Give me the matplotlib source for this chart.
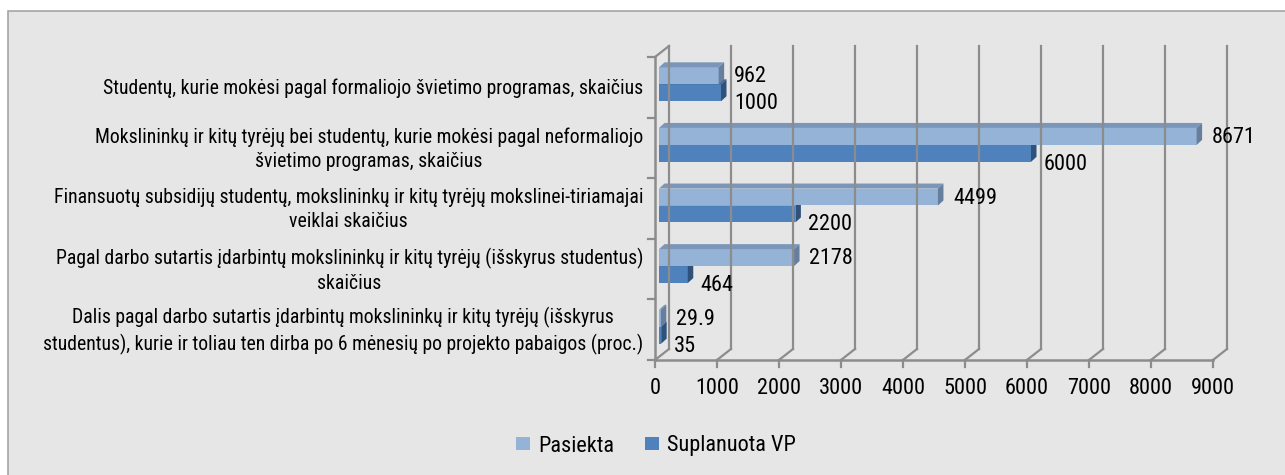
import matplotlib
matplotlib.use('Agg')
import matplotlib.pyplot as plt
from matplotlib import font_manager
from matplotlib.font_manager import FontProperties
from matplotlib.patches import Rectangle, Polygon, Patch
from matplotlib.transforms import offset_copy, IdentityTransform

# --- duomenys ---
kategorijos = [
    'Studentų, kurie mokėsi pagal formaliojo švietimo programas, skaičius',
    'Mokslininkų ir kitų tyrėjų bei studentų, kurie mokėsi pagal neformaliojo\nšvietimo programas, skaičius',
    'Finansuotų subsidijų studentų, mokslininkų ir kitų tyrėjų mokslinei-tiriamajai\nveiklai skaičius',
    'Pagal darbo sutartis įdarbintų mokslininkų ir kitų tyrėjų (išskyrus studentus)\nskaičius',
    'Dalis pagal darbo sutartis įdarbintų mokslininkų ir kitų tyrėjų (išskyrus\nstudentus), kurie ir toliau ten dirba po 6 mėnesių po projekto pabaigos (proc.)',
]
pasiekta = [962, 8671, 4499, 2178, 29.9]
suplanuota = [1000, 6000, 2200, 464, 35]
x_ticks = [0, 1000, 2000, 3000, 4000, 5000, 6000, 7000, 8000, 9000]
serijos = ['Pasiekta', 'Suplanuota VP']

W, H = 1285, 475

# siauras sriftas, jei toks yra
fname, k = None, 0.82
prefer = ['Liberation Sans Narrow', 'Arial Narrow', 'Roboto Condensed', 'DejaVu Sans',
          'Open Sans Condensed', 'Noto Sans']
narrow = [f for f in font_manager.fontManager.ttflist
          if ('Narrow' in f.name or 'Condensed' in f.name or f.stretch in ('condensed', 'semi-condensed'))
          and f.style == 'normal' and f.weight in (400, 'normal', 'regular')]
narrow.sort(key=lambda f: prefer.index(f.name) if f.name in prefer else 99)
if narrow:
    fname, k = narrow[0].fname, 1.0


def font(size):
    if fname:
        return FontProperties(fname=fname, size=size)
    return FontProperties(family='Liberation Sans', size=size)


fs_val = 16 * k
fs_cat = 14.2 * k

sviesi = ('#95b3d7', '#7b96b9', '#667f9f')
tamsi = ('#4f81bd', '#41699a', '#2f527b')
grid_color = '#8c8c8c'

DX, DY = 14, 11      # sienos gylis
BX, BY = 4, 3        # stulpeliu poslinkis
BDX, BDY = 5.5, 5    # stulpelio gylis
h = 0.28


def fx(px):
    return px / W


def fy(py):
    return 1 - py / H


fig = plt.figure(figsize=(W / 100, H / 100), dpi=100)
fig.patches.append(Rectangle((fx(8), fy(H + 10)), fx(W + 10) - fx(8), fy(11) - fy(H + 10),
                             transform=fig.transFigure, facecolor='#e6e6e6',
                             edgecolor='#a5a5a5', lw=1.2, zorder=-5))

ax = fig.add_axes([fx(655), fy(360), fx(1213) - fx(655), fy(57) - fy(360)])
ax.set_xlim(0, 9000)
ax.set_ylim(5, 0)
ax.axis('off')

ident = IdentityTransform()
back = offset_copy(ax.transData, fig=fig, x=DX, y=DY, units='dots')
shift = offset_copy(ax.transData, fig=fig, x=BX, y=BY, units='dots')

# galine siena su tinkleliu ir grindys
for v in x_ticks:
    ax.plot([v, v], [0, 5], transform=back, color=grid_color, lw=1.6, clip_on=False)
    x0, y0 = ax.transData.transform((v, 5))
    ax.plot([x0, x0 + DX], [y0, y0 + DY], transform=ident, color=grid_color, lw=1.6, clip_on=False)
    ax.plot([x0, x0], [y0, y0 - 7], transform=ident, color=grid_color, lw=1.6, clip_on=False)
    ax.annotate(f'{v}', xy=(v, 5), xytext=(0, -28), textcoords='offset pixels',
                ha='center', va='center', fontproperties=font(fs_val))

ax.plot([0, 9000], [5, 5], color=grid_color, lw=1.8, clip_on=False)
ax.plot([0, 0], [0, 5], color=grid_color, lw=1.8, clip_on=False)
x0, y0 = ax.transData.transform((0, 0))
ax.plot([x0, x0 + DX], [y0, y0 + DY], transform=ident, color=grid_color, lw=1.6, clip_on=False)
for i in range(6):
    x0, y0 = ax.transData.transform((0, i))
    ax.plot([x0 - 7, x0], [y0, y0], transform=ident, color=grid_color, lw=1.6, clip_on=False)


def bar3d(value, y_top, colors):
    front, top, side = colors
    ax.barh(y_top + h / 2, value, height=h, color=front, transform=shift, clip_on=False)
    xl, yt = ax.transData.transform((0, y_top))
    xr, yb = ax.transData.transform((value, y_top + h))
    xl, xr, yt, yb = xl + BX, xr + BX, yt + BY, yb + BY
    ax.add_patch(Polygon([(xl, yt), (xr, yt), (xr + BDX, yt + BDY), (xl + BDX, yt + BDY)],
                         closed=True, facecolor=top, edgecolor='none',
                         transform=ident, clip_on=False))
    ax.add_patch(Polygon([(xr, yb), (xr + BDX, yb + BDY), (xr + BDX, yt + BDY), (xr, yt)],
                         closed=True, facecolor=side, edgecolor='none',
                         transform=ident, clip_on=False))


for i, (p, s) in enumerate(zip(pasiekta, suplanuota)):
    c = i + 0.5
    bar3d(s, c, tamsi)
    bar3d(p, c - h, sviesi)
    ax.annotate(f'{p:g}', xy=(p, c - h / 2), xytext=(19, 2), textcoords='offset pixels',
                ha='left', va='center', fontproperties=font(fs_val))
    ax.annotate(f'{s:g}', xy=(s, c + h / 2), xytext=(17, -8), textcoords='offset pixels',
                ha='left', va='center', fontproperties=font(fs_val))
    ax.annotate(kategorijos[i], xy=(0, c), xytext=(-12, -1), textcoords='offset pixels',
                ha='right', va='center', multialignment='center',
                fontproperties=font(fs_cat), linespacing=1.35)

fig.legend(handles=[Patch(facecolor=sviesi[0], edgecolor='none'),
                    Patch(facecolor=tamsi[0], edgecolor='none')], labels=serijos,
           loc='center', bbox_to_anchor=(fx(656), fy(446)), ncol=2, frameon=False,
           prop=font(fs_val), handlelength=0.62, handleheight=0.5,
           handletextpad=0.35, columnspacing=1.4)

fig.savefig('out.png', dpi=100, facecolor='white')
